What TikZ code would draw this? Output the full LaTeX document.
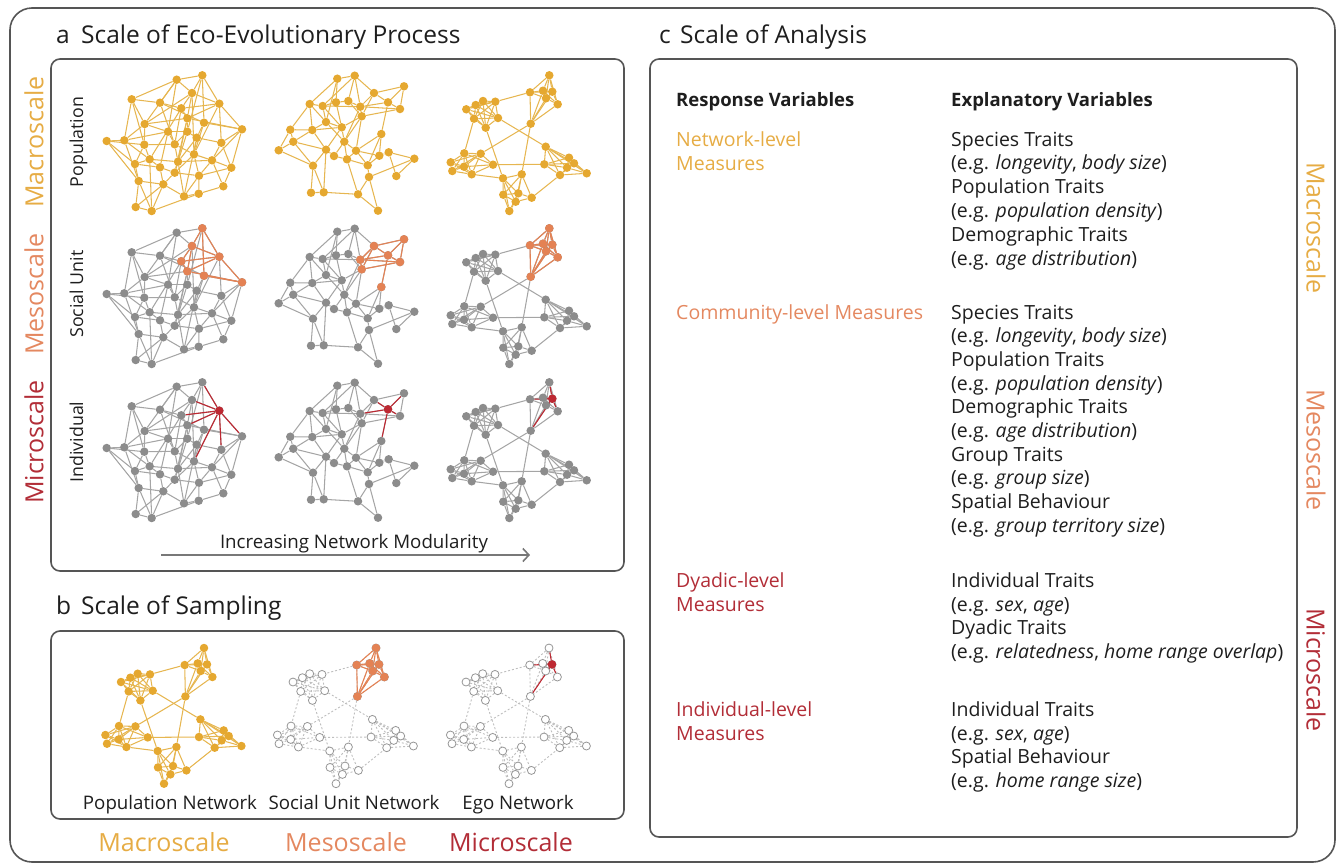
\documentclass[tikz,border=0pt]{standalone}
\usepackage{fontspec}
\setmainfont{Open Sans}
\usetikzlibrary{arrows.meta}
\pgfdeclarelayer{edges}
\pgfsetlayers{edges,main}
\definecolor{macroC}{RGB}{229,168,48}
\definecolor{macroE}{RGB}{230,182,80}
\definecolor{macroT}{RGB}{230,172,68}
\definecolor{mesoC}{RGB}{228,130,84}
\definecolor{mesoT}{RGB}{228,136,96}
\definecolor{microC}{RGB}{190,40,50}
\definecolor{microT}{RGB}{178,45,55}
\definecolor{nodeG}{RGB}{140,140,140}
\definecolor{edgeGC}{RGB}{165,165,165}
\definecolor{wdraw}{RGB}{150,150,150}
\definecolor{dashC}{RGB}{190,190,190}
\definecolor{textC}{RGB}{30,30,30}
\definecolor{boxC}{RGB}{85,85,85}
\definecolor{arrC}{RGB}{120,120,120}

% ---------- network layouts (local coordinates) ----------
\def\NodesA{104.3/10.3/1,78.7/14.7/2,94/28/3,33.7/34.3/4,62/37.7/5,83.3/43.3/6,121.3/38.7/7,89.3/53.3/8,46.7/59/9,106/57.7/10,144/64.3/11,8.7/76/12,26.3/75.3/13,70/66.7/14,89.3/66.7/15,98.7/72.7/16,46.3/79.7/17,76.7/79.3/18,123.3/77.7/19,96/89.3/20,37/99/21,51.7/94.3/22,62/102.3/23,80/96.7/24,114/95.3/25,76.7/107.7/26,133.3/102.7/27,40.7/116/28,65.3/119.3/29,101/110.7/30,125.3/121.3/31,86/131.3/32,100.7/128.7/33,37.7/142/34,53.7/146/35}
\def\EdgesA{1/2,1/3,1/7,1/10,1/15,2/3,2/4,2/5,2/14,2/9,3/6,3/8,3/9,3/20,3/7,4/5,4/9,4/13,4/17,5/6,5/10,5/18,6/7,6/8,6/22,6/18,7/8,7/11,7/19,7/20,8/9,8/11,8/15,8/24,8/26,9/13,9/14,9/17,10/11,10/16,10/20,11/19,11/25,11/27,12/13,12/17,12/21,12/28,13/14,13/22,13/28,14/15,14/18,14/23,15/16,15/18,15/26,16/19,16/20,16/24,16/32,17/18,17/21,17/22,18/20,18/24,19/25,19/27,20/25,20/26,20/30,21/22,21/28,21/23,22/23,22/24,22/35,23/26,23/29,24/25,24/26,24/32,25/27,25/30,25/31,26/29,26/30,27/30,27/31,28/29,28/34,28/35,29/32,29/35,29/34,30/32,30/33,31/33,32/33,33/35,34/35}
\def\HiNA{1,3,6,7,8,10,11}
\def\HiEA{1/3,1/7,1/10,3/6,3/7,3/8,6/7,6/8,7/8,7/11,8/11,10/11}
\def\EgoNA{7}
\def\EgoEA{7/1,7/3,7/6,7/8,7/11,7/19,7/20}

\def\NodesB{65.3/13.7/1,82.7/10.7/2,102/28/3,132/21.3/4,37.7/39/5,50.7/41/6,64/37.3/7,76.3/36/8,88.3/41.7/9,116/37.3/10,128/44/11,89.7/51.3/12,54/57/13,18.3/64.7/14,40.3/65/15,69.7/62.3/16,109.3/69/17,21.3/76.7/18,72.3/76.7/19,6.7/85.3/20,54/84.7/21,84/85.7/22,62/91/23,75/94.3/24,107.3/90.7/25,116.7/87.3/26,142.3/93.7/27,41/100.7/28,95.7/100.3/29,97/112/30,124.3/111/31,39/127.7/32,51.7/127.3/33,86/129.3/34,106/145.7/35}
\def\EdgesB{1/2,1/5,1/7,1/13,2/8,2/9,2/3,2/6,3/9,3/10,3/12,3/4,4/10,4/11,5/6,5/13,5/14,5/15,6/7,6/9,6/13,6/16,7/8,7/16,8/9,8/12,9/10,9/11,9/12,9/19,10/11,10/17,11/12,12/16,12/19,12/22,13/15,13/16,13/19,14/15,14/18,14/20,15/18,15/21,15/16,16/19,16/21,17/22,17/25,17/29,18/20,18/21,18/28,19/22,19/24,19/23,20/28,21/23,21/28,21/33,22/24,22/25,22/29,23/24,24/29,24/34,25/26,25/29,26/27,26/31,27/30,27/31,28/32,28/33,29/30,30/34,30/35,32/33,33/34,34/35}
\def\HiNB{3,4,9,10,11,12,17}
\def\HiEB{3/4,3/9,3/10,3/12,4/10,4/11,9/10,9/11,9/12,10/11,10/17,11/12}
\def\EgoNB{10}
\def\EgoEB{10/3,10/4,10/9,10/11,10/17}

\def\NodesC{104.3/10.3/1,85/27.3/2,98/25.7/3,107.3/26.7/4,101/33.3/5,112.7/39.3/6,85.7/58.7/7,21.3/44.3/8,30.7/40/9,38/36/10,50.3/36.7/11,29/53.7/12,53/53/13,40.7/62.7/14,19.3/88.3/15,35.7/88.7/16,5.7/97.3/17,19/101.7/18,7.3/106/19,26.7/109.3/20,48/99.7/21,100.7/81.7/22,99.3/99.3/23,124/92.7/24,129/98.3/25,122/102.7/26,115/110/27,141.7/108.3/28,58/113.3/29,76.7/109.3/30,58.3/129.7/31,73.3/128.3/32,70.7/136.7/33,86.7/132.7/34,64.3/146/35}
\def\EdgesC{1/2,1/3,1/4,1/5,1/6,2/3,2/4,2/5,2/7,3/4,3/5,3/6,3/7,4/5,4/6,4/7,5/6,5/7,6/7,8/9,8/10,8/11,8/12,8/13,8/14,9/10,9/11,9/12,9/13,9/14,10/11,10/12,10/13,10/14,11/12,11/13,11/14,12/13,12/14,13/14,15/16,15/17,15/18,15/19,15/20,15/21,16/17,16/18,16/19,16/20,16/21,17/18,17/19,17/20,18/19,18/20,18/21,19/20,20/21,22/23,22/24,22/25,22/26,22/27,22/28,23/24,23/25,23/26,23/27,24/25,24/26,24/28,25/26,25/27,25/28,26/27,26/28,27/28,29/30,29/31,29/32,29/33,29/35,30/31,30/32,30/33,30/34,31/32,31/33,31/35,32/33,32/34,32/35,33/34,33/35,2/11,13/22,7/16,7/30,12/15,14/29,21/23,34/27,20/29}
\def\HiNC{1,2,3,4,5,6,7}
\def\HiEC{1/2,1/3,1/4,1/5,1/6,2/3,2/4,2/5,2/7,3/4,3/5,3/6,3/7,4/5,4/6,4/7,5/6,5/7,6/7}
\def\EgoNC{4}
\def\EgoEC{4/1,4/2,4/3,4/5,4/6,4/7}

% #1 nodes, #2 edges, #3 node style, #4 edge style
\newcommand\mknet[4]{%
  \foreach \x/\y/\i in #1 {\node[#3] (\i) at (\x,\y) {};}
  \begin{pgfonlayer}{edges}
    \foreach \a/\b in #2 {\draw[#4] (\a) -- (\b);}
  \end{pgfonlayer}}
% highlight: #1 node indices, #2 edges, #3 node style, #4 edge style
\newcommand\mkhi[4]{%
  \foreach \i in #1 {\node[#3] (h\i) at (\i) {};}
  \begin{pgfonlayer}{edges}
    \foreach \a/\b in #2 {\draw[#4] (\a) -- (\b);}
  \end{pgfonlayer}}

\tikzset{
  dotbase/.style={circle, inner sep=0pt, minimum size=8.5pt, draw=none},
  dotY/.style={dotbase, fill=macroC},
  dotG/.style={dotbase, fill=nodeG},
  dotO/.style={dotbase, fill=mesoC},
  dotR/.style={dotbase, fill=microC},
  dotW/.style={circle, inner sep=0pt, minimum size=8pt, fill=white, draw=wdraw, line width=0.8pt},
  edgeY/.style={draw=macroE, line width=1.05pt},
  edgeG/.style={draw=edgeGC, line width=1.05pt},
  edgeO/.style={draw=mesoC, line width=1.1pt},
  edgeR/.style={draw=microC, line width=1.1pt},
  edgeD/.style={draw=dashC, line width=0.9pt, dash pattern=on 2pt off 2pt},
  box/.style={draw=boxC, line width=1.6pt},
  title/.style={font=\fontsize{24.5}{28}\selectfont, text=textC, anchor=base west, inner sep=0pt},
  scaleL/.style={font=\fontsize{25}{29}\selectfont, inner sep=0pt},
  rowL/.style={font=\fontsize{17.8}{22}\selectfont, text=textC, inner sep=0pt, rotate=90, anchor=base},
  blab/.style={font=\fontsize{18.7}{22}\selectfont, text=textC, inner sep=0pt, anchor=base},
  etxt/.style={font=\fontsize{19.5}{23}\selectfont, text=textC, anchor=base west, inner sep=0pt},
  htxt/.style={etxt, font=\fontsize{18.5}{23}\selectfont\bfseries},
}
\newcommand\et[3]{\node[etxt] (#1) at (951,#2) {#3};}

\begin{document}
\begin{tikzpicture}[x=1pt,y=-1pt]
\useasboundingbox (0,0) rectangle (1339,865);

% ---------------- frames ----------------
\draw[box, rounded corners=22pt] (10,8) rectangle (1335,862);
\draw[box, rounded corners=9pt] (51,59) rectangle (624,571);
\draw[box, rounded corners=9pt] (51,631) rectangle (624,819);
\draw[box, rounded corners=9pt] (650,59) rectangle (1297,837);

% ---------------- titles ----------------
\node[title] (ta1) at (56,43) {a};
\node[title] (ta2) at (81,43) {Scale of Eco-Evolutionary Process};
\node[title] (tb1) at (56,614) {b};
\node[title] (tb2) at (81,614) {Scale of Sampling};
\node[title] (tc1) at (659,43) {c};
\node[title] (tc2) at (680,43) {Scale of Analysis};

% ---------------- panel a labels ----------------
\node[scaleL, text=macroT, rotate=90] (lmac) at (34,142) {Macroscale};
\node[scaleL, text=mesoT, rotate=90] (lmes) at (34,294) {Mesoscale};
\node[scaleL, text=microT, rotate=90] (lmic) at (34,442) {Microscale};
\node[rowL] (rpop) at (83,142) {Population};
\node[rowL] (rsoc) at (83,294) {Social Unit};
\node[rowL] (rind) at (83,442) {Individual};

% ---------------- panel a networks ----------------
\begin{scope}[shift={(98,65)}, name prefix=a11-]
  \mknet{\NodesA}{\EdgesA}{dotY}{edgeY}
\end{scope}
\begin{scope}[shift={(272,65)}, name prefix=a12-]
  \mknet{\NodesB}{\EdgesB}{dotY}{edgeY}
\end{scope}
\begin{scope}[shift={(445,65)}, name prefix=a13-]
  \mknet{\NodesC}{\EdgesC}{dotY}{edgeY}
\end{scope}

\begin{scope}[shift={(98,218)}, name prefix=a21-]
  \mknet{\NodesA}{\EdgesA}{dotG}{edgeG}
  \mkhi{\HiNA}{\HiEA}{dotO}{edgeO}
\end{scope}
\begin{scope}[shift={(272,218)}, name prefix=a22-]
  \mknet{\NodesB}{\EdgesB}{dotG}{edgeG}
  \mkhi{\HiNB}{\HiEB}{dotO}{edgeO}
\end{scope}
\begin{scope}[shift={(445,218)}, name prefix=a23-]
  \mknet{\NodesC}{\EdgesC}{dotG}{edgeG}
  \mkhi{\HiNC}{\HiEC}{dotO}{edgeO}
\end{scope}

\begin{scope}[shift={(98,372)}, name prefix=a31-]
  \mknet{\NodesA}{\EdgesA}{dotG}{edgeG}
  \mkhi{\EgoNA}{\EgoEA}{dotR}{edgeR}
\end{scope}
\begin{scope}[shift={(272,372)}, name prefix=a32-]
  \mknet{\NodesB}{\EdgesB}{dotG}{edgeG}
  \mkhi{\EgoNB}{\EgoEB}{dotR}{edgeR}
\end{scope}
\begin{scope}[shift={(445,372)}, name prefix=a33-]
  \mknet{\NodesC}{\EdgesC}{dotG}{edgeG}
  \mkhi{\EgoNC}{\EgoEC}{dotR}{edgeR}
\end{scope}

% arrow
\coordinate (arrS) at (161,555);
\coordinate (arrE) at (530,555);
\draw[draw=arrC, line width=1.6pt, -{Straight Barb[length=6pt,width=13pt,line width=1.6pt]}] (arrS) -- (arrE);
\node[blab] (tmod) at (354,548) {Increasing Network Modularity};

% ---------------- panel b networks ----------------
\begin{scope}[shift={(99.7,637.7)}, name prefix=b1-]
  \mknet{\NodesC}{\EdgesC}{dotY}{edgeY}
\end{scope}
\begin{scope}[shift={(271.7,637.7)}, name prefix=b2-]
  \mknet{\NodesC}{\EdgesC}{dotW}{edgeD}
  \mkhi{\HiNC}{\HiEC}{dotO}{edgeO}
\end{scope}
\begin{scope}[shift={(444.7,637.7)}, name prefix=b3-]
  \mknet{\NodesC}{\EdgesC}{dotW}{edgeD}
  \mkhi{\EgoNC}{\EgoEC}{dotR}{edgeR}
\end{scope}

\node[blab] (bpn) at (170,809) {Population Network};
\node[blab] (bsn) at (354,809) {Social Unit Network};
\node[blab] (ben) at (518,809) {Ego Network};
\node[scaleL, text=macroT, anchor=base] (bmac) at (164,851) {Macroscale};
\node[scaleL, text=mesoT, anchor=base] (bmes) at (346,851) {Mesoscale};
\node[scaleL, text=microT, anchor=base] (bmic) at (511,851) {Microscale};

% ---------------- panel c ----------------
\node[htxt] (hrv) at (676,106) {Response Variables};
\node[htxt] (hev) at (951,106) {Explanatory Variables};

\node[etxt, text=macroT] (r1a) at (676,146) {Network-level};
\node[etxt, text=macroT] (r1b) at (676,170) {Measures};
\node[etxt, text=mesoT] (r2a) at (676,319) {Community-level Measures};
\node[etxt, text=microT] (r3a) at (676,587) {Dyadic-level};
\node[etxt, text=microT] (r3b) at (676,611) {Measures};
\node[etxt, text=microT] (r4a) at (676,716) {Individual-level};
\node[etxt, text=microT] (r4b) at (676,740) {Measures};

\et{e11}{146}{Species Traits}
\et{e12}{169.8}{(e.g. \textit{longevity}, \textit{body size})}
\et{e13}{193.6}{Population Traits}
\et{e14}{217.4}{(e.g. \textit{population density})}
\et{e15}{241.2}{Demographic Traits}
\et{e16}{265}{(e.g. \textit{age distribution})}

\et{e21}{319}{Species Traits}
\et{e22}{342.7}{(e.g. \textit{longevity}, \textit{body size})}
\et{e23}{366.4}{Population Traits}
\et{e24}{390.1}{(e.g. \textit{population density})}
\et{e25}{413.8}{Demographic Traits}
\et{e26}{437.5}{(e.g. \textit{age distribution})}
\et{e27}{461.2}{Group Traits}
\et{e28}{484.9}{(e.g. \textit{group size})}
\et{e29}{508.6}{Spatial Behaviour}
\et{e2a}{532.3}{(e.g. \textit{group territory size})}

\et{e31}{587}{Individual Traits}
\et{e32}{611}{(e.g. \textit{sex}, \textit{age})}
\et{e33}{634.5}{Dyadic Traits}
\et{e34}{658}{(e.g. \textit{relatedness}, \textit{home range overlap})}

\et{e41}{716}{Individual Traits}
\et{e42}{740}{(e.g. \textit{sex}, \textit{age})}
\et{e43}{763.5}{Spatial Behaviour}
\et{e44}{787}{(e.g. \textit{home range size})}

\node[scaleL, text=macroT, rotate=-90] (rmac) at (1316,228) {Macroscale};
\node[scaleL, text=mesoT, rotate=-90] (rmes) at (1316,450) {Mesoscale};
\node[scaleL, text=microT, rotate=-90] (rmic) at (1316,670) {Microscale};
\end{tikzpicture}
\end{document}
